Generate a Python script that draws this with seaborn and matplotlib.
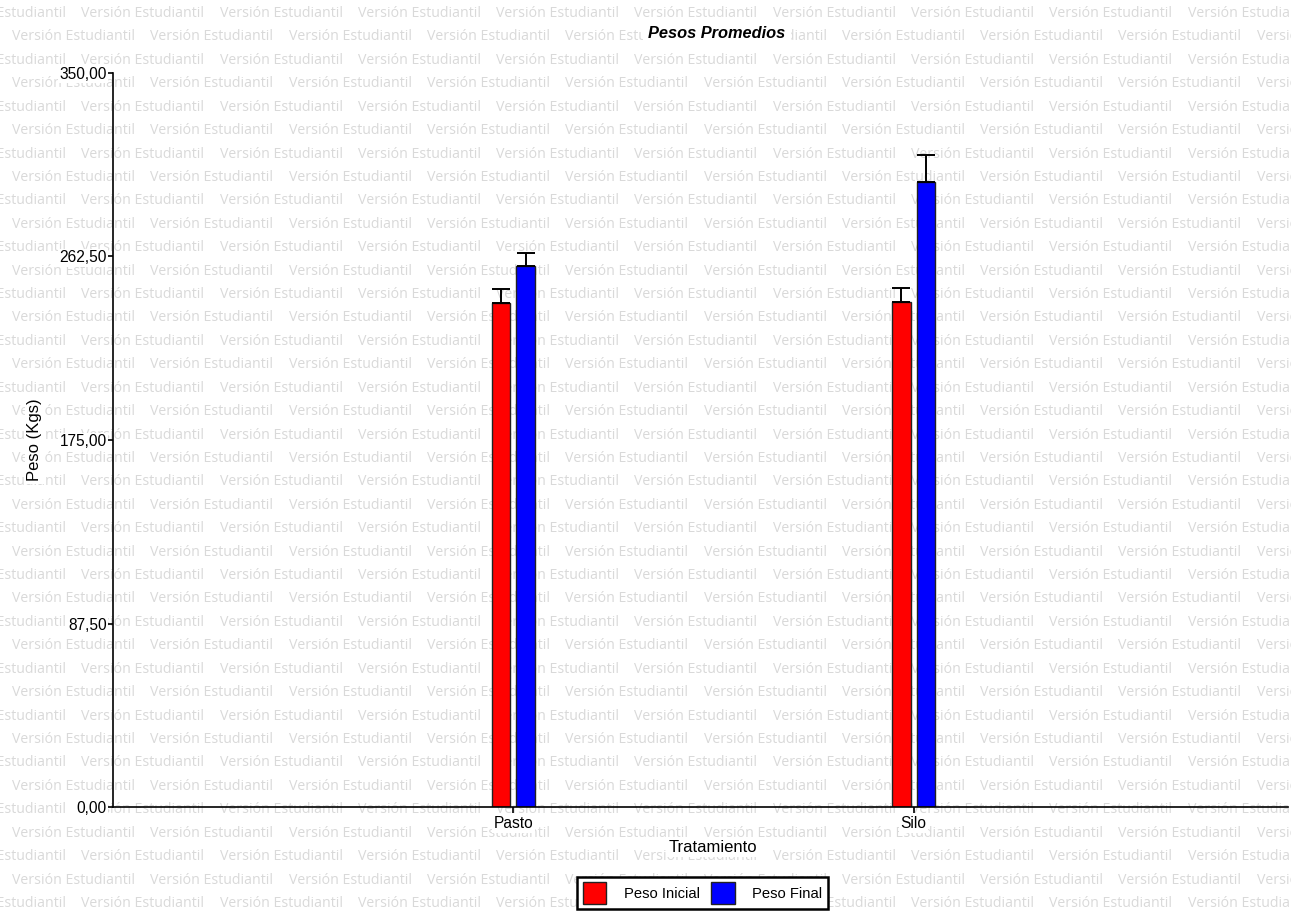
import numpy as np
import pandas as pd
import matplotlib
matplotlib.use("Agg")
import matplotlib.pyplot as plt
from matplotlib.patches import Patch
from matplotlib.ticker import FuncFormatter
import seaborn as sns

# Mean weights per treatment and their error (upper bar only)
tratamientos = ["Pasto", "Silo"]
medidas = ["Peso Inicial", "Peso Final"]
peso_inicial = [240.2, 240.7]
peso_final = [258.0, 297.9]
error_inicial = [6.7, 6.9]
error_final = [6.0, 13.0]
y_ticks = [0.0, 87.5, 175.0, 262.5, 350.0]

colores = {"Peso Inicial": "#ff0000", "Peso Final": "#0000ff"}
errores = {"Peso Inicial": error_inicial, "Peso Final": error_final}

df = pd.DataFrame({
    "Tratamiento": tratamientos * 2,
    "Medida": [medidas[0]] * len(tratamientos) + [medidas[1]] * len(tratamientos),
    "Peso": peso_inicial + peso_final,
})

sns.set_style("white")
plt.rcParams["font.family"] = ["Liberation Sans", "DejaVu Sans"]
plt.rcParams["text.color"] = "black"
plt.rcParams["axes.labelcolor"] = "black"
plt.rcParams["xtick.color"] = "black"
plt.rcParams["ytick.color"] = "black"

W, H = 1291, 916
fig = plt.figure(figsize=(W / 100, H / 100), dpi=100)
fig.patch.set_facecolor("white")

# Student-edition watermark tiled behind everything
step_x, step_y = 138.3, 23.42
for k in range(40):
    yc = 13.5 + k * step_y
    x0 = 12.0 - (69.0 if k % 2 == 0 else 0.0)
    x = x0
    while x < W - 20:
        fig.text(x / W, 1 - yc / H, "Versión Estudiantil", ha="left", va="center",
                 fontsize=10.2, color="#d9d9d9", family=["Open Sans", "DejaVu Sans"],
                 zorder=-5)
        x += step_x

ax = fig.add_axes([113 / W, 1 - 807 / H, (1288 - 113) / W, (807 - 73) / H])
ax.patch.set_alpha(0)

sns.barplot(data=df, x="Tratamiento", y="Peso", hue="Medida", order=tratamientos,
            hue_order=medidas, palette=colores, saturation=1, width=0.124, gap=0.25,
            edgecolor="#222222", linewidth=1.0, errorbar=None, legend=False, ax=ax)

# Upper error bars placed on the drawn bars
for medida, cont in zip(medidas, ax.containers):
    xs = [b.get_x() + b.get_width() / 2 for b in cont]
    hs = [b.get_height() for b in cont]
    errs = errores[medida]
    ax.errorbar(xs, hs, yerr=[np.zeros(len(errs)), errs], fmt="none",
                ecolor="black", elinewidth=1.4, capsize=6.5, capthick=1.4, zorder=5)

ax.set_xlim(-1.0, 1.935)
ax.set_ylim(0, 350)
ax.set_yticks(y_ticks)
ax.yaxis.set_major_formatter(FuncFormatter(lambda v, p: f"{v:.2f}".replace(".", ",")))

for side in ["top", "right"]:
    ax.spines[side].set_visible(False)
for side in ["left", "bottom"]:
    ax.spines[side].set_linewidth(1.2)
    ax.spines[side].set_color("black")

ax.tick_params(axis="y", direction="out", length=3.6, width=1.2, pad=1.0,
               labelsize=11.2, left=True, colors="black")
ax.tick_params(axis="x", direction="out", length=4.3, width=1.2, pad=2.5,
               labelsize=11.2, bottom=True, colors="black")
for lab in ax.get_xticklabels() + ax.get_yticklabels():
    lab.set_bbox(dict(facecolor="white", edgecolor="none", pad=1))

ax.set_xlabel("Tratamiento", fontsize=12, bbox=dict(facecolor="white", edgecolor="none", pad=2))
ax.xaxis.label.set_va("center")
ax.xaxis.set_label_coords((713 - 113) / 1175, (807 - 847) / 734)
ax.set_ylabel("Peso (Kgs)", fontsize=12, bbox=dict(facecolor="white", edgecolor="none", pad=2))
ax.yaxis.label.set_va("center")
ax.yaxis.set_label_coords((35 - 113) / 1175, 0.5)

fig.text(717 / W, 1 - 34 / H, "Pesos Promedios", ha="center", va="center",
         fontsize=11.8, fontweight="bold", fontstyle="italic",
         bbox=dict(facecolor="white", edgecolor="none", pad=4))

handles = [Patch(facecolor=colores[m], edgecolor="#222222", linewidth=1.0) for m in medidas]
leg = fig.legend(handles, medidas, ncol=2, loc="center",
                 bbox_to_anchor=(702.5 / W, 1 - 893 / H), fontsize=10.6,
                 frameon=True, fancybox=False, handlelength=1.6, handleheight=1.9,
                 handletextpad=1.2, columnspacing=0.75, borderpad=0.38,
                 borderaxespad=0)
leg.get_frame().set_edgecolor("black")
leg.get_frame().set_linewidth(1.8)
leg.get_frame().set_facecolor("white")
leg.get_frame().set_alpha(1)

fig.savefig("out.png", dpi=100, facecolor="white")
